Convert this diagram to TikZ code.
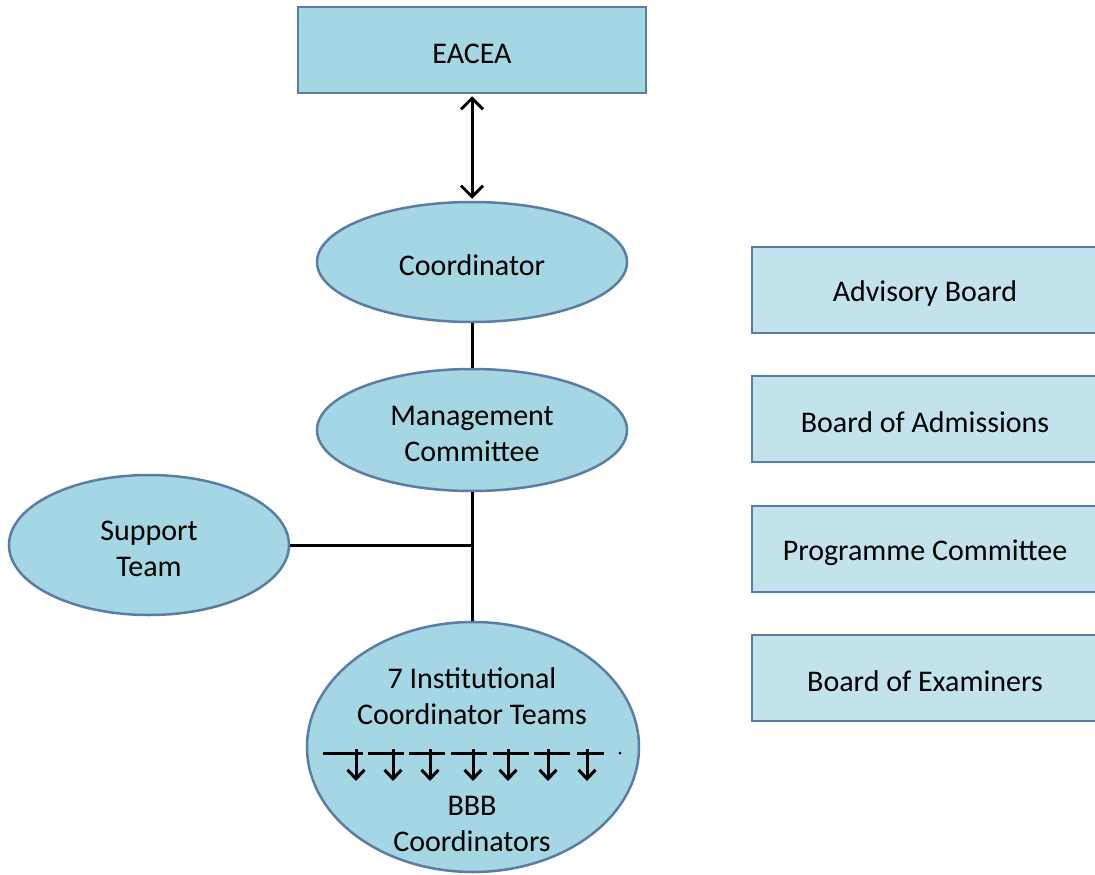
\documentclass[tikz,border=0pt]{standalone}
\usepackage{fontspec}
\setmainfont{Carlito}
\usetikzlibrary{shapes.geometric,arrows.meta}
\definecolor{nodefill}{HTML}{A5D6E4}
\definecolor{boardfill}{HTML}{C3E3EC}
\definecolor{edgeblue}{HTML}{5A7DA6}
\tikzset{
  x=1pt, y=-1pt,
  every node/.style={font=\fontsize{30}{36}\selectfont, align=center, inner sep=0pt},
  caption/.style={label={[yshift=-3.5pt]center:{#1}}},
  mainbox/.style={draw=edgeblue, line width=2.5pt, fill=nodefill, minimum width=348pt, minimum height=86pt},
  boardbox/.style={draw=edgeblue, line width=2.5pt, fill=boardfill, minimum width=346pt, minimum height=86pt},
  oval/.style={ellipse, draw=edgeblue, line width=2.5pt, fill=nodefill},
  link/.style={line width=3pt, black},
  bigbarb/.tip={Straight Barb[length=11pt, width=22pt, line width=3pt]},
  smallbarb/.tip={Straight Barb[length=9pt, width=17pt, line width=3pt]},
  tip/.style={line width=3pt, black, -smallbarb},
}
\begin{document}
\begin{tikzpicture}
\clip (0,0) rectangle (1095,875);
\fill[white] (0,0) rectangle (1095,875);

% top of the hierarchy
\node[mainbox, caption=EACEA] (eacea) at (472,50) {};
\node[oval, minimum width=310pt, minimum height=120pt, caption=Coordinator] (coord) at (472,262) {};
\node[oval, minimum width=310pt, minimum height=122pt, caption={Management\\Committee}] (mgmt) at (472,430) {};
\node[oval, minimum width=280pt, minimum height=140pt, caption={Support\\Team}] (support) at (149,545) {};
\node[oval, minimum width=332pt, minimum height=250pt] (ict) at (473,747) {};

% text inside the lower ellipse
\node (ictA) at (472,696) {7 Institutional\\Coordinator Teams};
\node (ictB) at (472,824) {BBB\\Coordinators};

% boards on the right
\node[boardbox, caption=Advisory Board] (adv) at (925,290) {};
\node[boardbox, caption=Board of Admissions] (adm) at (925,419) {};
\node[boardbox, caption=Programme Committee] (prog) at (925,549) {};
\node[boardbox, caption=Board of Examiners] (exam) at (925,678) {};

% connectors
\draw[line width=3pt, black, bigbarb-bigbarb]
  ([yshift=-2pt]eacea.south) -- ([yshift=2pt]coord.north);
\draw[link] (coord.south) -- (mgmt.north);
\draw[link] (mgmt.south) -- (mgmt.south |- ict.north);
\coordinate (join) at (mgmt.south |- support.east);
\draw[link] (support.east) -- (join);

% row of institutional teams, each passing down to the coordinators
\foreach \sa/\sb/\ax in {323/363/356, 368/404/393, 409/445/430, 451/487/473, 493/529/508, 534/570/548, 577/604/587} {
  \draw[link] (\sa,753) -- (\sb,753);
  \draw[tip] (\ax,749) -- (\ax,781);
}
\fill (620,753) circle (1.5pt);
\end{tikzpicture}
\end{document}
